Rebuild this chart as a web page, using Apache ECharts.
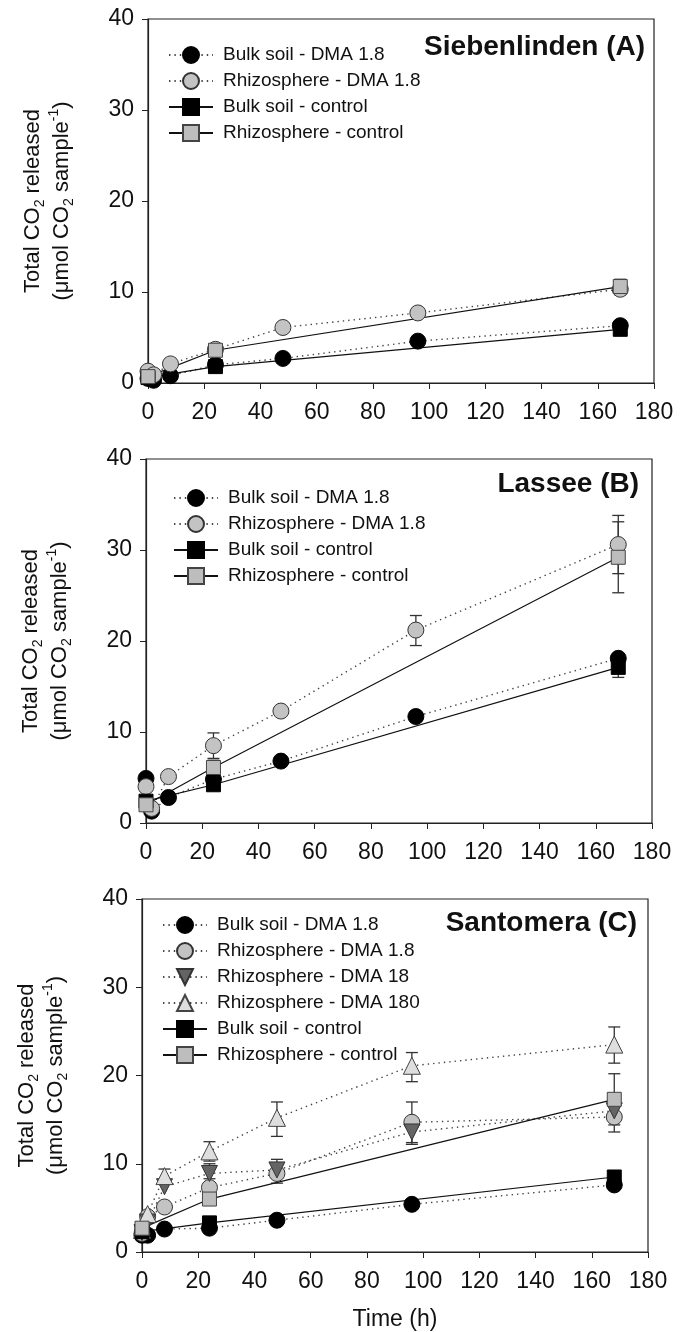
<!DOCTYPE html>
<html>
<head>
<meta charset="utf-8">
<script src="https://cdn.jsdelivr.net/npm/echarts/dist/echarts.min.js"></script>
<style>
  html, body { margin: 0; padding: 0; background: #fff; }
  #chart { width: 684px; height: 1332px; }
</style>
</head>
<body>
<div id="chart"></div>
<script>
// sampling times (h)
var tDMA = [0, 2, 8, 24, 48, 96, 168];
var tCtrl = [0, 24, 168];
var xTicks = [0, 20, 40, 60, 80, 100, 120, 140, 160, 180];
var yTicks = [0, 10, 20, 30, 40];

// Siebenlinden (A)
var bulkDMA_A = [0.5, 0.3, 0.8, 2.0, 2.7, 4.6, 6.3];
var rhizoDMA_A = [1.3, 0.9, 2.1, 3.7, 6.1, 7.7, 10.3];
var bulkCtrl_A = [0.6, 1.8, 5.9];
var rhizoCtrl_A = [0.7, 3.6, 10.6];
// error bars: [time, low, high]
var errA = [[168, 9.7, 10.9], [168, 9.8, 11.4], [24, 3.2, 4.1]];

// Lassee (B)
var bulkDMA_B = [4.9, 1.3, 2.8, 4.8, 6.8, 11.7, 18.1];
var rhizoDMA_B = [4.0, 1.6, 5.1, 8.5, 12.3, 21.2, 30.6];
var bulkCtrl_B = [2.4, 4.2, 17.1];
var rhizoCtrl_B = [2.0, 6.1, 29.2];
var errB = [[0, 4.5, 5.4], [24, 7.1, 9.9], [96, 19.5, 22.8], [168, 27.4, 33.8],
            [168, 25.3, 33.1], [168, 16.0, 18.2], [24, 5.4, 6.9]];

// Santomera (C)
var bulkDMA_C = [1.9, 1.9, 2.6, 2.7, 3.6, 5.4, 7.6];
var rhizoDMA_C = [2.1, 4.0, 5.1, 7.3, 8.9, 14.7, 15.3];
var rhizoDMA18_C = [2.2, 3.4, 7.4, 8.9, 9.3, 13.6, 16.0];
var rhizoDMA180_C = [2.5, 4.3, 8.6, 11.4, 15.2, 21.1, 23.5];
var bulkCtrl_C = [2.3, 3.3, 8.5];
var rhizoCtrl_C = [2.7, 6.0, 17.3];
var errC = [[8, 7.9, 9.4], [24, 10.3, 12.5], [48, 13.1, 17.0], [96, 19.3, 22.6], [168, 21.4, 25.5],
            [96, 12.4, 17.0], [168, 13.6, 17.0], [96, 12.2, 14.4], [24, 7.7, 10.0], [48, 7.8, 10.5],
            [24, 6.3, 8.3], [168, 14.4, 20.2]];

var FONT = '"Liberation Sans", Arial, sans-serif';

function pairs(t, v) {
  return t.map(function (x, i) { return [x, v[i]]; });
}

var styles = {
  bulkDMA: { symbol: 'circle', size: 16, color: '#000', border: '#000', dotted: true },
  rhizoDMA: { symbol: 'circle', size: 16, color: '#c3c3c3', border: '#333', dotted: true },
  dma18: { symbol: 'triangle', size: 16, color: '#646464', border: '#333', dotted: true, rotate: 180 },
  dma180: { symbol: 'triangle', size: 17, color: '#dedede', border: '#444', dotted: true },
  bulkCtrl: { symbol: 'rect', size: 14, color: '#000', border: '#000', dotted: false },
  rhizoCtrl: { symbol: 'rect', size: 14, color: '#bdbdbd', border: '#444', dotted: false }
};

function lineSeries(name, key, idx, t, v) {
  var s = styles[key];
  return {
    name: name,
    type: 'line',
    xAxisIndex: idx,
    yAxisIndex: idx,
    data: pairs(t, v),
    symbol: s.symbol,
    symbolSize: s.size,
    symbolRotate: s.rotate || 0,
    showAllSymbol: true,
    animation: false,
    z: 3,
    itemStyle: { color: s.color, borderColor: s.border, borderWidth: 1, opacity: 1 },
    lineStyle: s.dotted ? { color: '#444', width: 1.4, type: [1.4, 4] } : { color: '#111', width: 1.2, type: 'solid' }
  };
}

function renderErr(params, api) {
  var x = api.value(0);
  var lo = api.coord([x, api.value(1)]);
  var hi = api.coord([x, api.value(2)]);
  var w = 6;
  var st = { stroke: '#333', lineWidth: 1.3 };
  return {
    type: 'group',
    children: [
      { type: 'line', shape: { x1: lo[0], y1: lo[1], x2: hi[0], y2: hi[1] }, style: st },
      { type: 'line', shape: { x1: hi[0] - w, y1: hi[1], x2: hi[0] + w, y2: hi[1] }, style: st },
      { type: 'line', shape: { x1: lo[0] - w, y1: lo[1], x2: lo[0] + w, y2: lo[1] }, style: st }
    ]
  };
}

function errSeries(idx, data) {
  return {
    type: 'custom',
    xAxisIndex: idx,
    yAxisIndex: idx,
    renderItem: renderErr,
    data: data,
    encode: { x: 0, y: [1, 2] },
    z: 2,
    silent: true,
    animation: false
  };
}

var grids = [
  { left: 148, top: 19, width: 506, height: 364 },
  { left: 146, top: 459, width: 506, height: 364 },
  { left: 142, top: 899, width: 506, height: 364 }
];

var yName = 'Total CO{sub|2} released\n(μmol CO{sub|2} sample{sup|-1})';

function xAxis(idx, withName) {
  return {
    type: 'value', gridIndex: idx, min: 0, max: 180, interval: 20,
    axisLine: { lineStyle: { color: '#222', width: 1.2 } },
    axisTick: { show: true, length: 6, lineStyle: { color: '#222' } },
    splitLine: { show: false },
    axisLabel: { fontSize: 23, color: '#111', fontFamily: FONT, margin: 18 },
    name: withName ? 'Time (h)' : '',
    nameLocation: 'middle',
    nameGap: 56,
    nameTextStyle: { fontSize: 23, color: '#111', fontFamily: FONT }
  };
}

function yAxis(idx) {
  return {
    type: 'value', gridIndex: idx, min: 0, max: 40, interval: 10,
    axisLine: { show: true, lineStyle: { color: '#222', width: 1.2 } },
    axisTick: { show: true, length: 6, lineStyle: { color: '#222' } },
    splitLine: { show: false },
    axisLabel: { fontSize: 23, color: '#111', fontFamily: FONT, margin: 14 },
    name: yName,
    nameLocation: 'middle',
    nameRotate: 90,
    nameGap: 72,
    nameTextStyle: {
      fontSize: 22, color: '#111', fontFamily: FONT, lineHeight: 29,
      rich: {
        sub: { fontSize: 14, verticalAlign: 'bottom', lineHeight: 29, fontFamily: FONT, color: '#111' },
        sup: { fontSize: 14, verticalAlign: 'top', lineHeight: 29, fontFamily: FONT, color: '#111' }
      }
    }
  };
}

function legend(top, left, names) {
  return {
    orient: 'vertical', left: left, top: top,
    itemWidth: 44, itemHeight: 20, itemGap: 6,
    selectedMode: false,
    data: names,
    formatter: function (n) { return n.split('|')[0]; },
    textStyle: { fontSize: 19, color: '#111', fontFamily: FONT, lineHeight: 20, padding: [0, 0, 0, 5] }
  };
}

var titles = [
  { text: 'Siebenlinden (A)', right: 34, top: 28 },
  { text: 'Lassee (B)', right: 40, top: 465 },
  { text: 'Santomera (C)', right: 42, top: 904 }
].map(function (t) {
  t.textStyle = { fontSize: 28, fontWeight: 'bold', color: '#111', fontFamily: FONT };
  return t;
});

var series = [
  errSeries(0, errA),
  lineSeries('Bulk soil - DMA 1.8|A', 'bulkDMA', 0, tDMA, bulkDMA_A),
  lineSeries('Rhizosphere - DMA 1.8|A', 'rhizoDMA', 0, tDMA, rhizoDMA_A),
  lineSeries('Bulk soil - control|A', 'bulkCtrl', 0, tCtrl, bulkCtrl_A),
  lineSeries('Rhizosphere - control|A', 'rhizoCtrl', 0, tCtrl, rhizoCtrl_A),

  errSeries(1, errB),
  lineSeries('Bulk soil - DMA 1.8|B', 'bulkDMA', 1, tDMA, bulkDMA_B),
  lineSeries('Rhizosphere - DMA 1.8|B', 'rhizoDMA', 1, tDMA, rhizoDMA_B),
  lineSeries('Bulk soil - control|B', 'bulkCtrl', 1, tCtrl, bulkCtrl_B),
  lineSeries('Rhizosphere - control|B', 'rhizoCtrl', 1, tCtrl, rhizoCtrl_B),

  errSeries(2, errC),
  lineSeries('Bulk soil - DMA 1.8|C', 'bulkDMA', 2, tDMA, bulkDMA_C),
  lineSeries('Rhizosphere - DMA 1.8|C', 'rhizoDMA', 2, tDMA, rhizoDMA_C),
  lineSeries('Rhizosphere - DMA 18|C', 'dma18', 2, tDMA, rhizoDMA18_C),
  lineSeries('Rhizosphere - DMA 180|C', 'dma180', 2, tDMA, rhizoDMA180_C),
  lineSeries('Bulk soil - control|C', 'bulkCtrl', 2, tCtrl, bulkCtrl_C),
  lineSeries('Rhizosphere - control|C', 'rhizoCtrl', 2, tCtrl, rhizoCtrl_C)
];

var chart = echarts.init(document.getElementById('chart'), null, { renderer: 'canvas' });
chart.setOption({
  backgroundColor: '#fff',
  animation: false,
  title: titles,
  grid: grids.map(function (g) {
    return Object.assign({ show: true, borderColor: '#222', borderWidth: 1.2, backgroundColor: 'transparent' }, g);
  }),
  xAxis: [xAxis(0, false), xAxis(1, false), xAxis(2, true)],
  yAxis: [yAxis(0), yAxis(1), yAxis(2)],
  legend: [
    legend(40, 163, ['Bulk soil - DMA 1.8|A', 'Rhizosphere - DMA 1.8|A', 'Bulk soil - control|A', 'Rhizosphere - control|A']),
    legend(483, 168, ['Bulk soil - DMA 1.8|B', 'Rhizosphere - DMA 1.8|B', 'Bulk soil - control|B', 'Rhizosphere - control|B']),
    legend(910, 157, ['Bulk soil - DMA 1.8|C', 'Rhizosphere - DMA 1.8|C', 'Rhizosphere - DMA 18|C',
      'Rhizosphere - DMA 180|C', 'Bulk soil - control|C', 'Rhizosphere - control|C'])
  ],
  series: series
});
</script>
</body>
</html>
